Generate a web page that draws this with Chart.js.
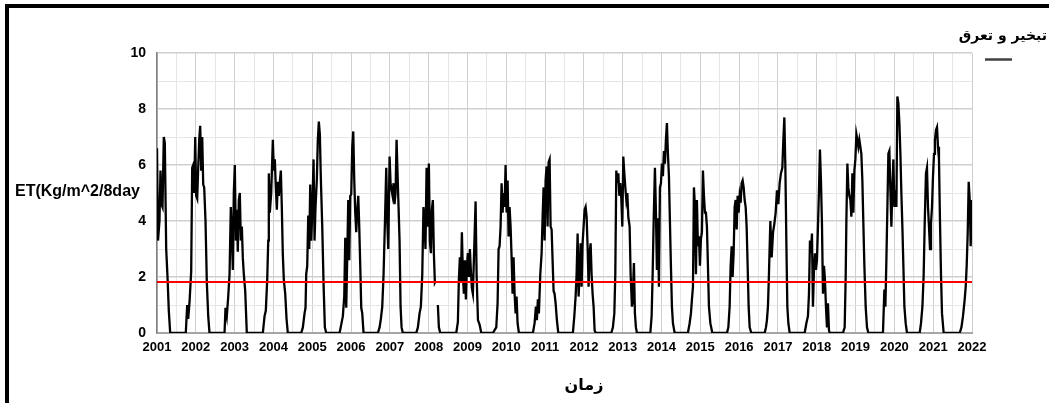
<!DOCTYPE html>
<html><head><meta charset="utf-8">
<script src="https://cdn.jsdelivr.net/npm/chart.js@4.4.0/dist/chart.umd.min.js"></script>
<style>
html,body{margin:0;padding:0;background:#fff;}
#wrap{position:relative;width:1049px;height:403px;overflow:hidden;background:#fff;}
#frame{position:absolute;left:5px;top:4px;width:1100px;height:500px;border-top:4px solid #000;border-left:4px solid #000;pointer-events:none;}
canvas{position:absolute;left:0;top:0;}
</style></head><body>
<div id="wrap"><canvas id="c" width="1049" height="403"></canvas><div id="frame"></div></div>
<script>
// ---- data (decimal year, ET in Kg/m^2/8day) ----
const yearLabels = [2001,2002,2003,2004,2005,2006,2007,2008,2009,2010,2011,2012,2013,2014,2015,2016,2017,2018,2019,2020,2021,2022];
const meanET = 1.82;
const seriesName = 'تبخیر و تعرق';
const xTitle = 'زمان';
const yTitle = 'ET(Kg/m^2/8day';

const dates = [
 2001.000,2001.026,2001.064,2001.090,2001.116,2001.142,2001.175,2001.201,2001.237,2001.271,2001.304,2001.340,
 2001.742,2001.778,2001.804,2001.838,2001.881,2001.907,2001.933,2001.959,2001.985,2002.010,2002.036,2002.062,2002.088,2002.113,2002.139,2002.165,2002.191,2002.216,2002.250,2002.284,2002.320,2002.353,
 2002.740,2002.765,2002.799,2002.835,2002.869,2002.902,2002.928,2002.954,2002.979,2003.005,2003.031,2003.057,2003.082,2003.108,2003.134,2003.160,2003.186,2003.211,2003.237,2003.273,2003.314,
 2003.727,2003.771,2003.804,2003.840,2003.866,2003.881,2003.907,2003.943,2003.985,2004.010,2004.036,2004.062,2004.088,2004.113,2004.139,2004.165,2004.191,2004.216,2004.242,2004.268,2004.304,2004.338,2004.371,
 2004.716,2004.758,2004.802,2004.827,2004.845,2004.871,2004.897,2004.923,2004.948,2004.974,2005.000,2005.034,2005.059,2005.085,2005.119,2005.144,2005.170,2005.196,2005.222,2005.258,2005.291,2005.325,2005.361,
 2005.704,2005.747,2005.789,2005.825,2005.851,2005.876,2005.902,2005.928,2005.954,2005.979,2006.005,2006.031,2006.057,2006.082,2006.108,2006.134,2006.160,2006.186,2006.211,2006.237,2006.263,2006.289,2006.322,
 2006.691,2006.735,2006.768,2006.804,2006.838,2006.874,2006.907,2006.933,2006.959,2006.993,2007.018,2007.044,2007.070,2007.095,2007.121,2007.147,2007.173,2007.198,2007.224,2007.250,2007.276,2007.302,2007.335,
 2007.680,2007.722,2007.765,2007.799,2007.835,2007.866,2007.892,2007.918,2007.946,2007.979,2008.005,2008.031,2008.057,2008.082,2008.108,2008.134,2008.160,2008.178,2008.204,2008.237,2008.263,2008.299,
 2008.711,2008.753,2008.778,2008.804,2008.830,2008.856,2008.881,2008.907,2008.933,2008.959,2008.985,2009.010,2009.036,2009.062,2009.088,2009.113,2009.139,2009.183,2009.209,2009.235,2009.270,2009.312,2009.356,
 2009.655,2009.698,2009.742,2009.776,2009.802,2009.827,2009.853,2009.879,2009.905,2009.930,2009.956,2009.982,2010.008,2010.034,2010.059,2010.085,2010.111,2010.137,2010.162,2010.188,2010.214,2010.240,2010.265,2010.291,2010.325,
 2010.686,2010.729,2010.763,2010.789,2010.814,2010.840,2010.876,2010.910,2010.936,2010.961,2010.987,2011.013,2011.039,2011.064,2011.090,2011.116,2011.142,2011.168,2011.193,2011.219,2011.245,2011.271,2011.304,2011.340,
 2011.716,2011.753,2011.786,2011.812,2011.838,2011.863,2011.889,2011.915,2011.941,2011.966,2011.992,2012.018,2012.044,2012.070,2012.095,2012.121,2012.147,2012.173,2012.198,2012.224,2012.250,2012.276,2012.302,
 2012.706,2012.747,2012.784,2012.809,2012.835,2012.861,2012.887,2012.912,2012.938,2012.964,2012.990,2013.015,2013.041,2013.067,2013.093,2013.119,2013.144,2013.178,2013.204,2013.237,2013.255,2013.289,2013.314,2013.340,2013.366,
 2013.711,2013.745,2013.771,2013.796,2013.830,2013.856,2013.881,2013.907,2013.933,2013.959,2013.985,2014.010,2014.036,2014.062,2014.088,2014.113,2014.139,2014.165,2014.191,2014.216,2014.242,2014.268,2014.294,2014.338,
 2014.680,2014.724,2014.758,2014.784,2014.810,2014.835,2014.861,2014.887,2014.912,2014.938,2014.964,2014.990,2015.015,2015.041,2015.067,2015.093,2015.119,2015.144,2015.170,2015.196,2015.222,2015.258,2015.309,
 2015.686,2015.722,2015.755,2015.781,2015.807,2015.832,2015.858,2015.884,2015.910,2015.936,2015.961,2015.987,2016.013,2016.039,2016.064,2016.090,2016.116,2016.142,2016.168,2016.193,2016.219,2016.245,2016.271,2016.314,
 2016.657,2016.691,2016.716,2016.742,2016.768,2016.804,2016.838,2016.874,2016.907,2016.941,2016.974,2017.010,2017.044,2017.077,2017.113,2017.139,2017.165,2017.191,2017.216,2017.242,2017.268,2017.302,
 2017.688,2017.732,2017.773,2017.799,2017.825,2017.851,2017.876,2017.902,2017.928,2017.954,2017.979,2018.005,2018.031,2018.057,2018.082,2018.108,2018.134,2018.160,2018.186,2018.211,2018.237,2018.263,2018.289,2018.314,2018.332,
 2018.675,2018.719,2018.745,2018.763,2018.789,2018.814,2018.840,2018.866,2018.892,2018.918,2018.943,2018.969,2018.995,2019.021,2019.046,2019.072,2019.098,2019.124,2019.149,2019.175,2019.201,2019.227,2019.260,2019.294,2019.330,
 2019.706,2019.742,2019.768,2019.794,2019.820,2019.845,2019.871,2019.897,2019.923,2019.948,2019.974,2020.000,2020.026,2020.052,2020.077,2020.103,2020.129,2020.155,2020.180,2020.206,2020.232,2020.258,2020.291,2020.325,
 2020.652,2020.686,2020.722,2020.755,2020.781,2020.814,2020.840,2020.866,2020.892,2020.918,2020.943,2020.969,2020.995,2021.021,2021.046,2021.072,2021.098,2021.124,2021.149,2021.175,2021.201,2021.227,2021.270,
 2021.683,2021.727,2021.768,2021.812,2021.838,2021.863,2021.889,2021.915,2021.941,2021.966,2021.992
];
const etValues = [
 6.6,3.3,4.0,5.8,4.6,4.5,7.0,6.8,3.0,2.0,0.8,0,
 0,1.0,0.5,1.1,2.2,5.9,6.0,5.0,7.0,4.9,4.8,5.9,6.9,7.4,5.8,7.0,5.3,5.2,4.0,1.8,0.6,0,
 0,0.9,0.6,1.3,2.1,4.5,3.5,2.25,5.0,6.0,3.3,4.4,2.9,4.75,5.0,3.3,3.8,2.7,2.1,1.5,0,
 0,0.6,0.8,1.9,3.3,5.7,4.3,5.0,6.9,5.8,6.2,5.2,4.4,5.4,4.9,5.4,5.8,4.5,2.8,1.9,1.4,0.5,0,
 0,0.2,0.7,0.9,2.1,2.4,4.2,3.0,5.3,3.3,4.3,6.2,3.3,4.5,5.5,6.9,7.55,7.1,5.5,3.8,1.8,0.2,0,
 0,0.3,0.6,1.3,3.4,0.9,2.7,4.75,2.6,4.9,4.95,6.65,7.2,5.5,4.3,3.6,4.4,4.9,3.8,2.4,0.9,0.7,0,
 0,0.2,0.5,0.94,2.1,4.0,5.9,4.0,3.0,6.3,5.35,5.1,4.9,5.35,4.6,5.0,6.9,5.7,4.5,3.3,0.94,0.2,0,
 0,0.2,0.7,0.94,2.1,4.5,4.0,3.0,5.9,3.8,6.05,3.3,2.85,4.4,4.75,2.85,1.8,1.85,null,1.0,0.2,0,
 0,0.4,1.9,2.7,1.8,3.6,2.1,1.4,2.6,1.2,2.4,2.85,2.0,3.0,2.2,1.6,1.4,3.45,4.7,2.1,0.46,0.3,0,
 0,0.1,0.2,1.06,3.0,3.1,3.8,5.35,4.3,5.0,4.5,6.0,4.3,5.45,3.45,4.5,3.8,2.7,1.4,2.7,1.4,0.7,1.3,0.35,0,
 0,0.35,0.94,0.46,1.2,0.7,2.1,2.85,4.15,5.2,3.3,5.45,5.95,3.8,6.1,6.2,3.8,3.7,2.6,1.5,1.4,1.06,0.46,0,
 0,0.6,1.3,2.1,3.55,1.3,2.1,3.2,1.65,3.2,3.8,4.4,4.5,4.15,3.1,1.65,2.85,3.2,2.1,1.4,0.94,0.1,0,
 0,0.2,0.7,2.1,5.8,5.35,5.7,4.9,5.35,4.8,3.8,6.3,5.7,5.2,4.75,5.0,4.15,3.8,2.1,0.94,1.1,2.5,0.7,0.2,0,
 0,0.6,2.1,3.9,5.9,4.3,2.25,4.1,1.65,5.2,5.35,6.05,5.6,6.5,6.05,6.9,7.5,6.4,5.6,4.0,2.4,0.94,0.35,0,
 0,0.35,0.7,1.2,1.65,5.2,4.5,2.1,4.75,3.1,3.45,2.4,3.35,3.6,5.8,4.9,4.3,4.3,3.8,2.4,0.94,0.35,0,
 0,0.2,0.94,2.4,3.1,2.0,2.85,4.5,4.75,3.7,4.9,4.3,4.9,4.65,5.35,5.45,5.2,4.75,4.5,3.8,2.4,0.94,0.2,0,
 0,0.2,0.46,0.94,2.1,4.0,2.7,3.6,3.9,4.3,5.1,4.6,5.35,5.7,5.9,6.9,7.7,5.9,3.3,0.94,0.35,0,
 0,0.35,0.6,1.4,3.3,2.85,3.55,0.94,2.25,2.85,2.25,2.6,3.8,5.1,6.55,5.45,3.9,1.4,2.4,1.9,0.94,0.2,1.06,0.1,0,
 0,0.2,2.0,4.0,6.05,5.2,4.9,4.75,4.15,5.7,4.3,5.8,6.2,7.1,6.9,6.65,6.9,6.65,6.4,5.45,3.9,2.4,0.94,0.2,0,
 0,1.55,0.94,2.6,4.5,6.4,6.5,5.1,3.8,5.2,6.2,4.5,5.1,4.5,8.45,8.2,7.5,6.4,5.0,3.8,2.4,0.94,0.35,0,
 0,0.35,0.94,2.1,3.9,5.7,5.9,4.5,3.8,3.0,3.9,4.5,5.6,6.4,6.9,7.25,7.35,6.65,6.2,4.0,2.1,0.7,0,
 0,0.2,0.6,1.2,1.65,2.4,3.55,5.4,4.75,3.1,4.75
];

// ---- chart ----
const startYear = yearLabels[0];
const endYear = yearLabels[yearLabels.length - 1];
const etPoints = dates.map((t, i) => ({ x: t, y: etValues[i] }));
const meanPoints = [{ x: startYear, y: meanET }, { x: endYear, y: meanET }];

const textPlugin = {
  id: 'extraText',
  afterDraw(chart) {
    const c = chart.ctx;
    c.save();
    c.fillStyle = '#000';
    c.textBaseline = 'middle';
    c.font = 'bold 16px "Liberation Sans", Arial, sans-serif';
    c.textAlign = 'left';
    c.fillText(yTitle, 15, 192);
    c.font = 'bold 16px "DejaVu Sans", sans-serif';
    c.textAlign = 'center';
    c.fillText(xTitle, 584, 386);
    c.font = 'bold 14px "DejaVu Sans", sans-serif';
    c.textAlign = 'right';
    c.fillText(seriesName, 1047, 36);
    c.strokeStyle = '#404040';
    c.lineWidth = 2.5;
    c.beginPath();
    c.moveTo(985, 59.5);
    c.lineTo(1012, 59.5);
    c.stroke();
    c.restore();
  }
};

new Chart(document.getElementById('c'), {
  type: 'line',
  data: {
    datasets: [
      { label: 'mean', data: meanPoints, borderColor: '#ff0000', borderWidth: 2, pointRadius: 0, order: 0 },
      { label: seriesName, data: etPoints, borderColor: '#000000', borderWidth: 2.3, pointRadius: 0, tension: 0, spanGaps: false, order: 1 }
    ]
  },
  options: {
    responsive: false,
    animation: false,
    devicePixelRatio: 1,
    events: [],
    layout: { padding: { left: 0, right: 77, top: 53, bottom: 0 } },
    plugins: { legend: { display: false }, tooltip: { enabled: false } },
    scales: {
      x: {
        type: 'linear', min: startYear, max: endYear,
        afterFit(s) { s.height = 70; },
        ticks: {
          stepSize: 0.5, maxTicksLimit: 1000, autoSkip: false, maxRotation: 0, minRotation: 0, padding: 7,
          color: '#000', font: { family: '"Liberation Sans", Arial, sans-serif', weight: 'bold', size: 13 },
          callback: (v) => Number.isInteger(v) ? String(v) : ''
        },
        grid: {
          drawTicks: false,
          color: (ctx) => (ctx.tick && Number.isInteger(ctx.tick.value)) ? '#cfcfcf' : '#e6e6e6',
          lineWidth: 1
        },
        border: { color: '#a6a6a6', width: 2 }
      },
      y: {
        min: 0, max: 10,
        afterFit(s) { s.width = 157; },
        ticks: {
          stepSize: 1, maxTicksLimit: 1000, autoSkip: false, padding: 11,
          color: '#000', font: { family: '"Liberation Sans", Arial, sans-serif', weight: 'bold', size: 14 },
          callback: (v) => (v % 2 === 0) ? String(v) : ''
        },
        grid: {
          drawTicks: false,
          color: (ctx) => (ctx.tick && ctx.tick.value % 2 === 0) ? '#cfcfcf' : '#e6e6e6',
          lineWidth: (ctx) => (ctx.tick && ctx.tick.value % 2 === 0) ? 1.5 : 1
        },
        border: { color: '#7f7f7f', width: 1.5 }
      }
    }
  },
  plugins: [textPlugin]
});
</script>
</body></html>
